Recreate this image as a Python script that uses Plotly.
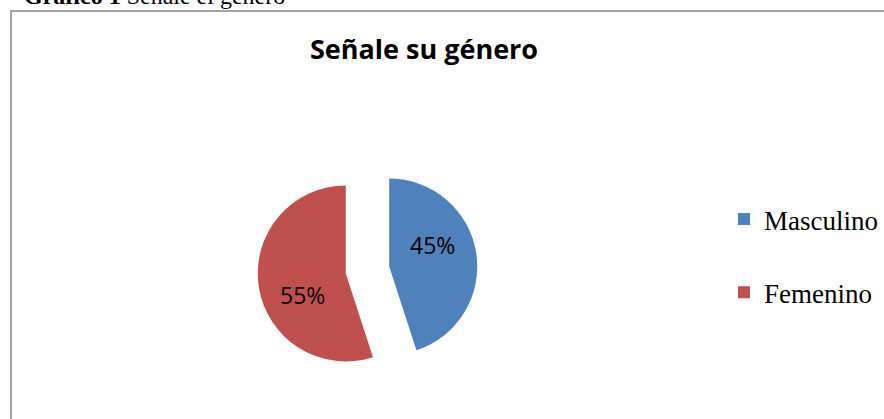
import math
import plotly.graph_objects as go

# datos de la encuesta
generos = ['Masculino', 'Femenino']
porcentajes = [45, 55]
colores = ['#4F81BD', '#C0504D']

titulo = 'Señale su género'
encabezado = '<b>Gráfico 1</b> Señale el género'

W, H = 884, 419
PULL = 0.25
# caja del pastel en pixeles (izq, arriba, lado)
PX, PY, LADO = 257.5, 160, 220

fig = go.Figure()

fig.add_trace(go.Pie(
    labels=[g + '<br> ' for g in generos],
    values=porcentajes,
    marker=dict(colors=colores, line=dict(width=0)),
    sort=False,
    direction='clockwise',
    rotation=0,
    pull=[PULL] * len(generos),
    textinfo='none',
    domain=dict(x=[PX / W, (PX + LADO) / W], y=[1 - (PY + LADO) / H, 1 - PY / H]),
    hovertemplate='%{label}%{percent}<extra></extra>',
))

# etiquetas de porcentaje dentro de cada sector
total = sum(porcentajes)
R = LADO / 2 / (1 + PULL)
cx, cy = PX + LADO / 2, PY + LADO / 2
anots = []
acum = 0
for v in porcentajes:
    mid = (acum + v / 2) / total * 360
    acum += v
    ax = cx + PULL * R * math.sin(math.radians(mid))
    ay = cy - PULL * R * math.cos(math.radians(mid))
    a = math.radians(mid - 17)
    tx = ax + 0.55 * R * math.sin(a)
    ty = ay - 0.55 * R * math.cos(a)
    anots.append(dict(
        text=f'{round(v / total * 100)}%',
        xref='paper', yref='paper',
        x=tx / W, y=1 - ty / H, xanchor='center', yanchor='middle',
        showarrow=False,
        font=dict(family='Open Sans', size=23, color='black'),
    ))

anots.append(dict(
    text=encabezado,
    xref='paper', yref='paper',
    x=22 / W, xanchor='left',
    y=1 - 11.5 / H, yanchor='bottom',
    showarrow=False,
    font=dict(family='Liberation Serif', size=24, color='black'),
))

fig.update_layout(
    width=W,
    height=H,
    margin=dict(l=0, r=0, t=0, b=0),
    paper_bgcolor='white',
    plot_bgcolor='white',
    title=dict(
        text='<b>' + titulo + '</b>',
        font=dict(family='Open Sans', size=27, color='black'),
        x=424 / W, xanchor='center',
        y=1 - 50 / H, yanchor='middle',
    ),
    showlegend=True,
    legend=dict(
        x=724 / W, xanchor='left',
        y=1 - 195 / H, yanchor='top',
        font=dict(family='Liberation Serif', size=27, color='black'),
        valign='top',
        bgcolor='rgba(0,0,0,0)',
    ),
    annotations=anots,
    shapes=[dict(
        type='rect', xref='paper', yref='paper',
        x0=11 / W, x1=1.05, y0=-0.05, y1=1 - 11 / H,
        line=dict(color='#868686', width=1.5),
    )],
)

fig.write_html(
    'out.html',
    config={'displayModeBar': False},
    post_script="document.body.style.margin='0';document.body.style.overflow='hidden';",
)
